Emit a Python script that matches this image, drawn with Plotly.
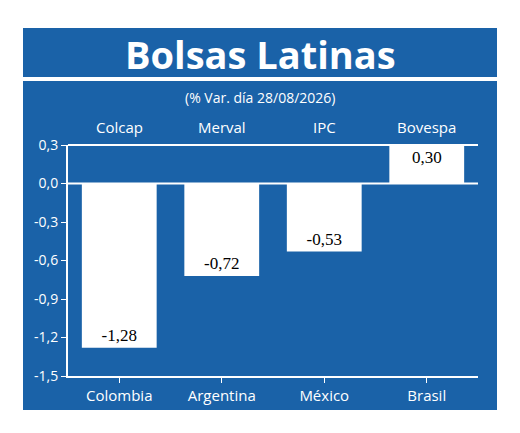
import plotly.graph_objects as go

indices = ["Colcap", "Merval", "IPC", "Bovespa"]
countries = ["Colombia", "Argentina", "México", "Brasil"]
values = [-1.28, -0.72, -0.53, 0.30]
yticks = [0.3, 0.0, -0.3, -0.6, -0.9, -1.2, -1.5]

BLUE = "#1a62a8"
OFF = 8  # page body margin
W, H = 520 - OFF, 433 - OFF
L, R, T, B = 68 - OFF, 478 - OFF, 145 - OFF, 376 - OFF
def px(x): return (x - OFF - L) / (R - L)
def py(y): return (B - (y - OFF)) / (B - T)

fig = go.Figure(go.Bar(
    x=countries, y=values, width=0.73, marker=dict(color="white", line_width=0),
    text=[f"{v:.2f}".replace(".", ",") for v in values],
    textposition="inside", insidetextanchor="end",
    textfont=dict(family="Liberation Serif", size=17, color="black"),
    cliponaxis=False,
))
shapes = [
    dict(type="rect", xref="paper", yref="paper", x0=px(23), x1=px(497), y0=py(28), y1=py(77),
         fillcolor=BLUE, line_width=0, layer="below"),
    dict(type="rect", xref="paper", yref="paper", x0=px(23), x1=px(497), y0=py(81), y1=py(410),
         fillcolor=BLUE, line_width=0, layer="below"),
    dict(type="line", xref="paper", yref="y", x0=0, x1=1, y0=0, y1=0, line=dict(color="white", width=2)),
    dict(type="line", xref="paper", yref="paper", x0=0, x1=1, y0=1, y1=1, line=dict(color="white", width=2)),
]
ann = [dict(text="<b>Bolsas Latinas</b>", xref="paper", yref="paper", x=0.5 * (px(23) + px(497)), y=py(54),
            yanchor="middle", showarrow=False, font=dict(family="Open Sans", size=38, color="white")),
       dict(text="(% Var. día 28/08/2026)", xref="paper", yref="paper", x=0.5 * (px(23) + px(497)), y=py(98),
            yanchor="middle", showarrow=False, font=dict(family="Open Sans", size=14, color="white"))]
for c, n in zip(countries, indices):
    ann.append(dict(text=n, x=c, xref="x", yref="paper", y=py(127), yanchor="middle", showarrow=False,
                    font=dict(family="Open Sans", size=15, color="white")))
fig.update_layout(
    width=W, height=H, margin=dict(l=L, r=W - R, t=T, b=H - B),
    paper_bgcolor="white", plot_bgcolor=BLUE, showlegend=False,
    shapes=shapes, annotations=ann, bargap=0.27,
    xaxis=dict(showgrid=False, ticks="outside", tickcolor="white", ticklen=5,
               showline=True, linecolor="white", linewidth=2,
               tickfont=dict(family="Open Sans", size=15, color="white")),
    yaxis=dict(range=[-1.5, 0.3], tickvals=yticks, ticktext=[f"{v:.1f}".replace(".", ",") for v in yticks],
               showgrid=False, zeroline=False, showline=True, linecolor="white", linewidth=2,
               ticks="outside", tickcolor="white", ticklen=5,
               tickfont=dict(family="Open Sans", size=14, color="white")),
)
fig.write_html("out.html")
